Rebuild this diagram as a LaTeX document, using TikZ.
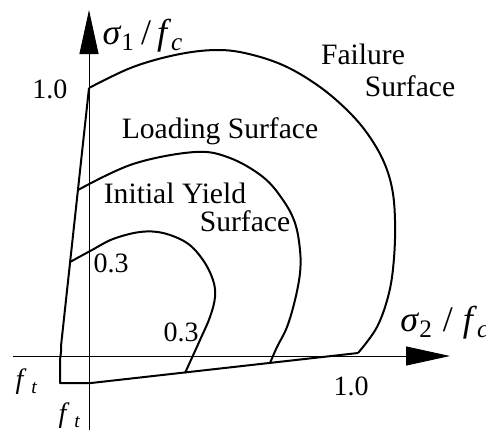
\documentclass[tikz,border=0pt]{standalone}
\usepackage{fontspec}
\setmainfont{Liberation Serif}
\usepackage{tikz}
\usetikzlibrary{arrows.meta,positioning}
\tikzset{
  axis/.style={line width=0.5pt, -{Triangle[length=22pt,width=9.5pt]}},
  surf/.style={line width=1pt, line join=round},
  axlbl/.style={font=\fontsize{18}{20}\selectfont, inner sep=0pt},
  lbl/.style={font=\fontsize{14.8}{17}\selectfont, inner sep=0pt, align=left},
  num/.style={font=\fontsize{14}{16}\selectfont, inner sep=0pt}
}
\newcommand{\sig}[1]{\textit{σ}\textsubscript{#1}}
\begin{document}
\begin{tikzpicture}[x=0.5pt, y=-0.5pt]
\useasboundingbox (0,0) rectangle (486,430);
% axes
\coordinate (vlow) at (89,430);
\coordinate (vtip) at (89,10);
\coordinate (hlow) at (13,356);
\coordinate (htip) at (450,356);
\draw[axis] (vlow) -- (vtip);
\draw[axis] (hlow) -- (htip);
% key points of the surfaces
\coordinate (fc1) at (89,88);
\coordinate (fc2) at (358,353);
\coordinate (bend) at (61,346);
\coordinate (cnr1) at (60,383);
\coordinate (cnr2) at (91,383);
% failure surface
\draw[surf] (fc2) -- (cnr2) -- (cnr1) -- (60,360) to[out=85,in=-84] (bend) -- (fc1);
\draw[surf] plot[smooth, tension=0.6] coordinates {(89,88) (133,67) (180,54) (220,50) (253,55) (287,67) (320,87) (347,110) (367,133) (383,160) (392,188) (395,220) (394,258) (389,293) (377,327) (358,353)};
% loading surface
\draw[surf] plot[smooth, tension=0.6] coordinates {(78,190) (133,164) (195,152) (230,158) (263,177) (283,200) (295,223) (300,250) (300,273) (295,300) (287,327) (277,347) (270,363)};
% initial yield surface
\draw[surf] plot[smooth, tension=0.6] coordinates {(70,262) (92,250) (113,239) (140,232) (163,233) (187,243) (203,260) (213,280) (215,297) (210,317) (200,340) (185,373)};
% labels
\node[axlbl] (ylab) at (143,36) {\sig{1}\,/\,\textit{f}\textsubscript{\textit{c}}};
\node[axlbl, anchor=west] (xlab) at (400,323) {\sig{2}\;/\;\textit{f}\textsubscript{\textit{c}}};
\node[num] (one1) at (50,89) {1.0};
\node[num] (one2) at (351,386) {1.0};
\node[num] (ft1) at (27,382) {\textit{f}\,\textsubscript{\textit{t}}};
\node[num] (ft2) at (70,416) {\textit{f}\,\textsubscript{\textit{t}}};
\node[num] (p3a) at (111,263) {0.3};
\node[num] (p3b) at (181,332) {0.3};
\node[lbl] (fail) at (363,54) {Failure};
\node[lbl] (failb) at (410,86) {Surface};
\node[lbl] (load) at (220,131) {Loading Surface};
\node[lbl] (init) at (175,193) {Initial Yield};
\node[lbl] (initb) at (245,221) {Surface};
\end{tikzpicture}
\end{document}
